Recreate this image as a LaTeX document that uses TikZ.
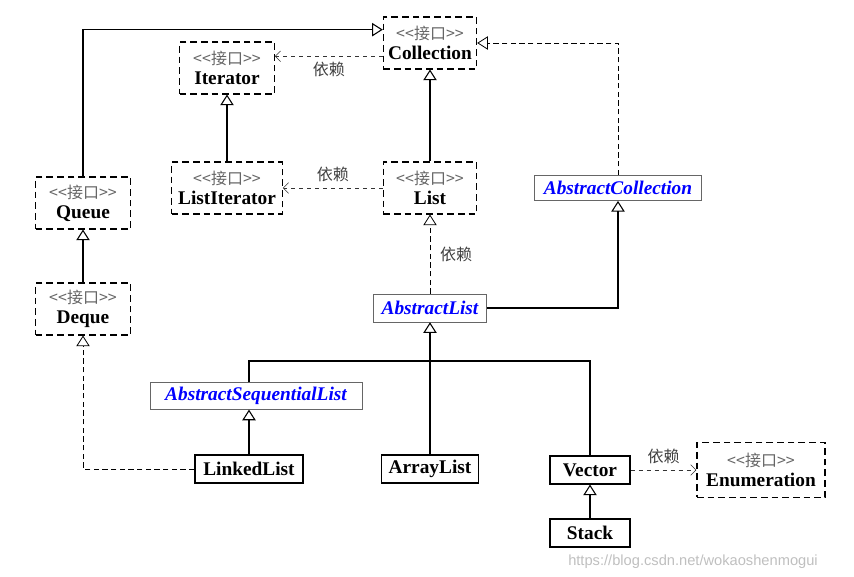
\documentclass[tikz,border=0pt]{standalone}
\usepackage{fontspec}
\setmainfont{Liberation Serif}
\newfontfamily\cjk{Noto Sans CJK SC}
\newfontfamily\wmfont{Liberation Sans}
\usetikzlibrary{arrows.meta, positioning}

\tikzset{
  iface/.style={draw, thick, dash pattern=on 5pt off 3pt, align=center, inner sep=1pt, font=\fontsize{14.5}{15}\selectfont\bfseries},
  abst/.style={draw=black!60, thin, inner sep=2pt, font=\fontsize{14.5}{15}\selectfont\bfseries\itshape, text=blue},
  cls/.style={draw, thick, inner sep=2pt, font=\fontsize{14.5}{15}\selectfont\bfseries},
  inh/.style={thick, -{Triangle[open, length=8pt, width=10pt]}},
  inhd/.style={inh, semithick, dash pattern=on 4pt off 2.5pt},
  dep/.style={thin, dashed, black!80, -{Straight Barb[length=4pt, width=8pt]}},
  lbl/.style={font=\cjk\fontsize{12}{13}\selectfont, text=black!75},
}
\newcommand{\jk}{{\mdseries\cjk\color{black!60}\fontsize{12}{14}\selectfont<<接口>>}}

\begin{document}
\begin{tikzpicture}[x=0.75pt, y=-0.75pt]
\useasboundingbox (0,0) rectangle (854,577);
\node[iface, minimum width=70pt, minimum height=39pt] (coll) at (430,43) {\jk\\Collection};
\node[iface, minimum width=71pt, minimum height=39pt] (iter) at (227,68) {\jk\\Iterator};
\node[iface, minimum width=83pt, minimum height=39pt] (liter) at (227,188) {\jk\\ListIterator};
\node[iface, minimum width=70pt, minimum height=39pt] (list) at (430,188) {\jk\\List};
\node[iface, minimum width=71pt, minimum height=39pt] (queue) at (83,203) {\jk\\Queue};
\node[iface, minimum width=71pt, minimum height=39pt] (deque) at (83,309) {\jk\\Deque};
\node[abst, minimum width=125pt, minimum height=19pt] (acoll) at (618,188) {AbstractCollection};
\node[abst, minimum width=85pt, minimum height=21pt] (alist) at (430,308) {AbstractList};
\node[abst, minimum width=159pt, minimum height=20pt] (aseq) at (256,396) {AbstractSequentialList};
\node[cls, minimum width=81pt, minimum height=21pt] (linked) at (249,469) {LinkedList};
\node[cls, minimum width=73pt, minimum height=21pt] (array) at (430,469) {ArrayList};
\node[cls, minimum width=60pt, minimum height=21pt] (vector) at (590,470) {Vector};
\node[cls, minimum width=60pt, minimum height=21pt] (stack) at (590,533) {Stack};
\node[iface, minimum width=96pt, minimum height=41pt] (enum) at (761,470) {\jk\\Enumeration};
\coordinate (bus) at (430,361);

% interfaces
\draw[inh] (queue.north) |- ([yshift=10pt]coll.west);
\draw[inhd] (acoll.north) |- (coll.east);
\draw[inh] (liter) -- (iter);
\draw[inh] (list) -- (coll);
\draw[inh] (deque) -- (queue);
\draw[dep] ([yshift=-10pt]coll.west) -- node[lbl, below=1pt] {依赖} ([yshift=-10pt]iter.east |- coll.west);
\draw[dep] (list.west |- liter) -- node[lbl, above=1pt] {依赖} (liter.east);
\draw[inhd] (alist) -- node[lbl, right=4pt] {依赖} (list);
\draw[inh] (alist.east) -| (acoll.south);

% classes
\draw[inhd] (linked.west) -| (deque.south);
\draw[inh] (linked.north) -- (linked.north |- aseq.south);
\draw[thick] (aseq.north -| linked) |- (bus) -| (vector.north);
\draw[thick] (array.north) -- (bus);
\draw[inh] (bus) -- (alist.south);
\draw[inh] (stack) -- (vector);
\draw[dep] (vector) -- node[lbl, above=1pt] {依赖} (enum);

\node[font=\wmfont\fontsize{11}{12}\selectfont, text=black!25] (wm) at (693,562) {https://blog.csdn.net/wokaoshenmogui};
\end{tikzpicture}
\end{document}
